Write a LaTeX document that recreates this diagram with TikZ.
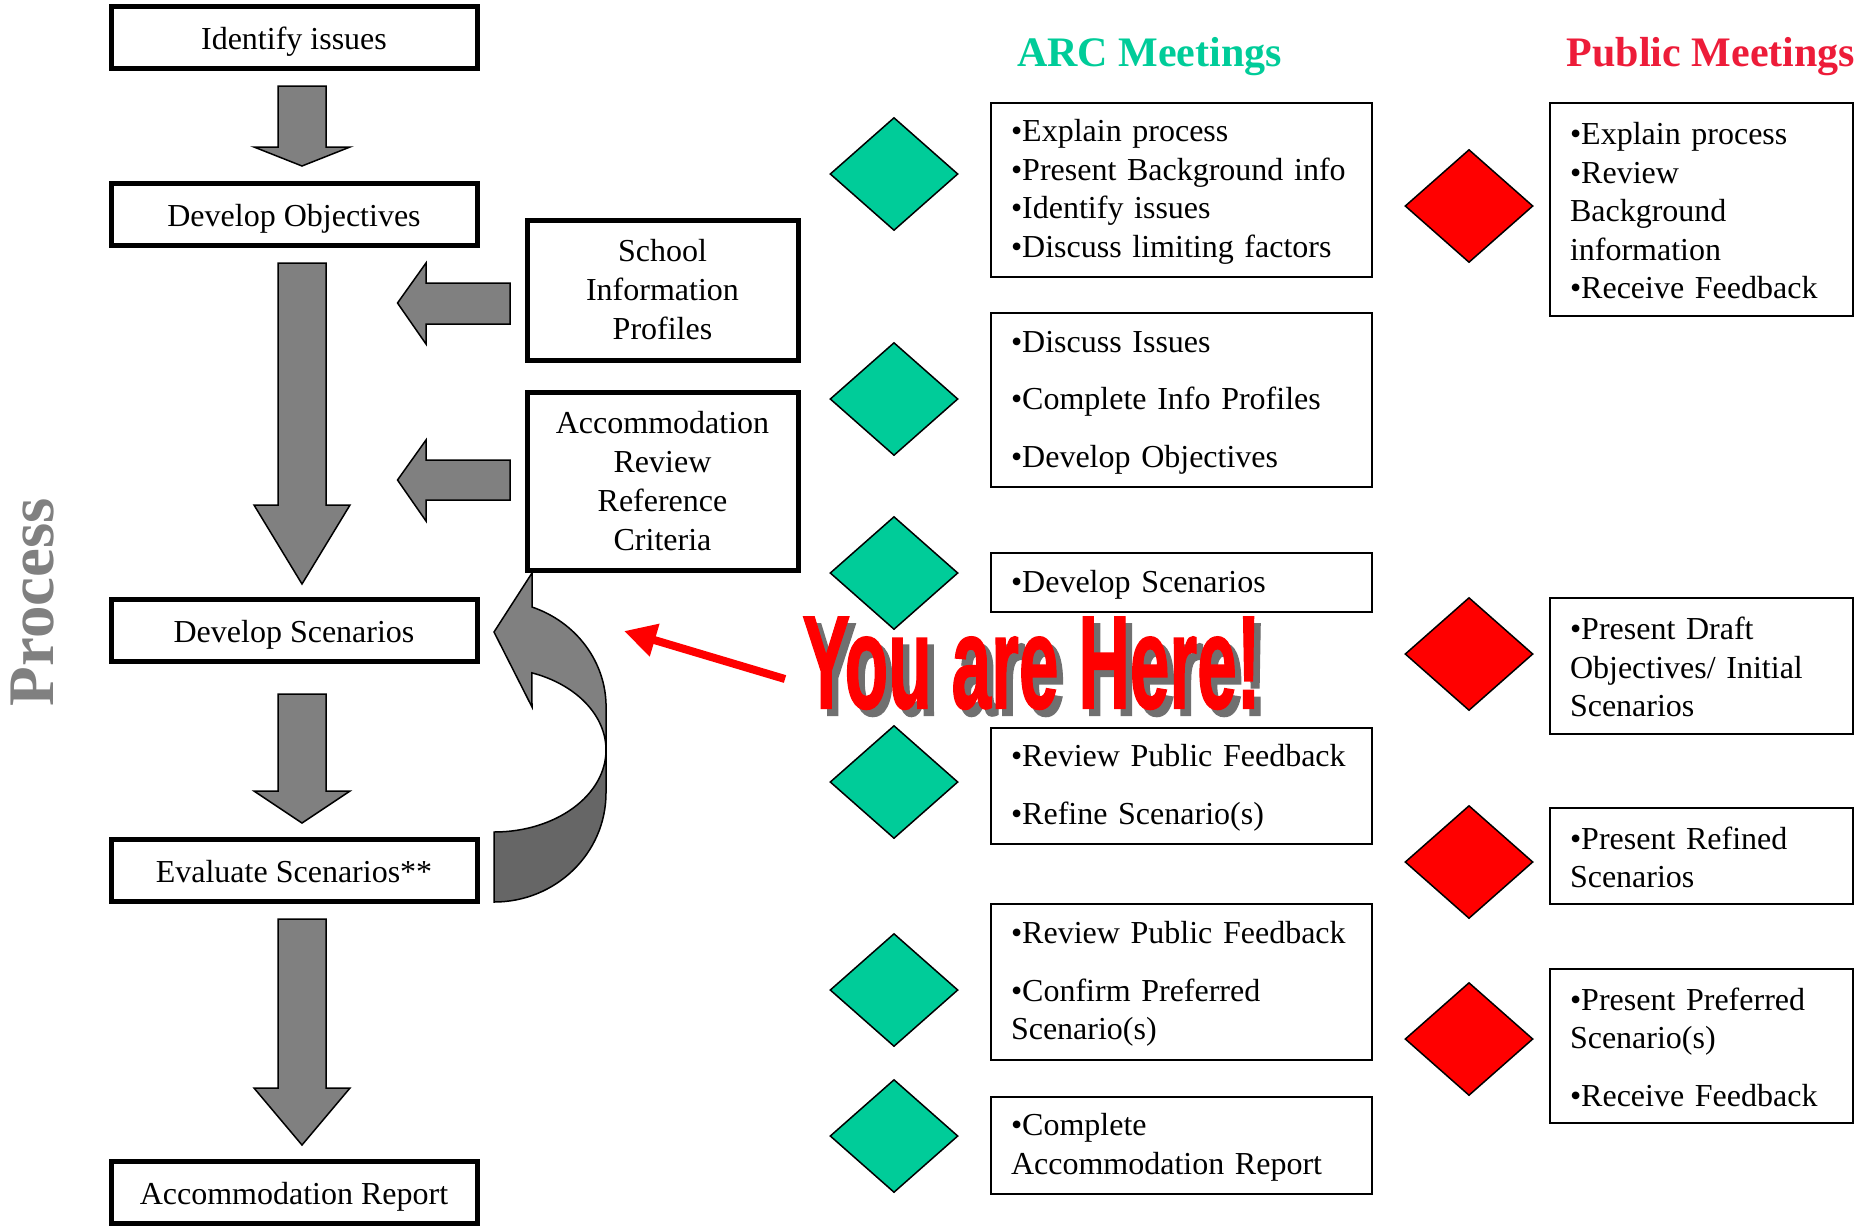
\documentclass[tikz,border=0pt]{standalone}
\usepackage{fontspec}
\setmainfont{Liberation Serif}
\newfontface\herefont[FakeBold=1.5]{Liberation Sans Bold}
\usetikzlibrary{arrows.meta,shapes.geometric}
\definecolor{arcgreen}{RGB}{0,204,153}
\definecolor{pubred}{RGB}{237,28,57}
\definecolor{blockgray}{RGB}{128,128,128}
\definecolor{blockdark}{RGB}{102,102,102}
\definecolor{shadowgray}{RGB}{112,112,112}
\begin{document}
\begin{tikzpicture}[x=0.5pt,y=-0.5pt,
  txt/.style={font=\fontsize{16}{19.25}\selectfont},
  flowbox/.style={txt, draw, line width=2.5pt, minimum width=183pt, minimum height=31pt, inner sep=0pt, align=center, text height=12pt, text depth=0pt},
  sidebox/.style={draw, line width=2.5pt, minimum width=135.5pt, inner sep=0pt, align=center, font=\fontsize{16}{19.5}\selectfont},
  arcbox/.style={txt, draw, line width=1pt, text width=170.5pt, inner xsep=10pt, inner ysep=0pt, align=left, execute at begin node={\rule{0pt}{13pt}}},
  pubbox/.style={txt, draw, line width=1pt, text width=131.5pt, inner xsep=10pt, inner ysep=0pt, align=left, execute at begin node={\rule{0pt}{12.5pt}}},
  arcdia/.style={diamond, draw, fill=arcgreen, line width=0.75pt, minimum width=64pt, minimum height=56.5pt, inner sep=0pt},
  pubdia/.style={diamond, draw, fill=red, line width=0.75pt, minimum width=64pt, minimum height=56.5pt, inner sep=0pt},
  blockarrow/.style={fill=blockgray, draw=black, line width=0.75pt, line join=miter},
  title/.style={anchor=base, inner sep=0pt, font=\fontsize{21}{25}\selectfont\bfseries},
  heretext/.style={anchor=base, inner sep=0pt, font=\herefont\fontsize{66}{70}\selectfont}
]
\fill[white] (0,0) rectangle (1874,1228);
\useasboundingbox (0,0) rectangle (1874,1228);

% Process label
\node[rotate=90, anchor=base, inner sep=0pt, text=blockgray, font=\fontsize{32.5}{38}\selectfont\bfseries] (process) at (54,602) {Process};

% left flow boxes
\node[flowbox] (identify) at (294,37) {Identify issues};
\node[flowbox] (devobj) at (294,214) {Develop Objectives};
\node[flowbox] (devscen) at (294,630) {Develop Scenarios};
\node[flowbox] (evalscen) at (294,870) {Evaluate Scenarios**};
\node[flowbox] (accrep) at (294,1192) {Accommodation Report};

% down block arrows
\foreach \t/\h/\p in {86/147/166, 263/505/584, 694/791/823, 919/1088/1145}
  \filldraw[blockarrow] (278,\t) -- (326,\t) -- (326,\h) -- (350,\h) -- (302,\p) -- (254,\h) -- (278,\h) -- cycle;

% side boxes
\node[sidebox, minimum height=70pt] (sip) at (662.5,290) {School\\Information\\Profiles};
\node[sidebox, minimum height=89pt] (arrc) at (662.5,481) {Accommodation\\Review\\Reference\\Criteria};

% left block arrows
\foreach \tip/\ha/\hb/\sa/\sb in {303/263/344/283/324, 480/440/521/460/500}
  \filldraw[blockarrow] (510,\sa) -- (426,\sa) -- (426,\ha) -- (397.5,\tip) -- (426,\hb) -- (426,\sb) -- (510,\sb) -- cycle;

% curved return arrow
\filldraw[fill=blockgray, draw=black, line width=0.75pt, line join=miter]
  (532,607) arc[start angle=-70.2, end angle=0, x radius=112, y radius=106]
  -- (606,750) arc[start angle=0, end angle=-70.2, x radius=112, y radius=82]
  -- (532,707) -- (494,632) -- (532,573) -- cycle;
\filldraw[fill=blockdark, draw=black, line width=0.75pt, line join=miter]
  (606,750) -- (606,793) arc[start angle=0, end angle=90, x radius=112, y radius=109]
  -- (494,832) arc[start angle=90, end angle=0, x radius=112, y radius=82] -- cycle;

% titles
\node[title, text=arcgreen] (arctitle) at (1149.5,66) {ARC Meetings};
\node[title, text=pubred] (pubtitle) at (1711,66) {Public Meetings};

% ARC diamonds
\node[arcdia] (ad1) at (894,174) {};
\node[arcdia] (ad2) at (894,399) {};
\node[arcdia] (ad3) at (894,573) {};
\node[arcdia] (ad4) at (894,782) {};
\node[arcdia] (ad5) at (894,990) {};
\node[arcdia] (ad6) at (894,1136) {};

% ARC boxes
\node[arcbox, minimum height=87pt] (ab1) at (1181.5,190) {•Explain process\\•Present Background info\\•Identify issues\\•Discuss limiting factors};
\node[arcbox, minimum height=87pt] (ab2) at (1181.5,400) {•Discuss Issues\\[9.5pt]•Complete Info Profiles\\[9.5pt]•Develop Objectives};
\node[arcbox, minimum height=29.5pt] (ab3) at (1181.5,582.5) {•Develop Scenarios};
\node[arcbox, minimum height=58pt] (ab4) at (1181.5,786) {•Review Public Feedback\\[9.5pt]•Refine Scenario(s)};
\node[arcbox, minimum height=78pt] (ab5) at (1181.5,982) {•Review Public Feedback\\[9.5pt]•Confirm Preferred\\Scenario(s)};
\node[arcbox, minimum height=48.5pt] (ab6) at (1181.5,1145.5) {•Complete\\Accommodation Report};

% public diamonds
\node[pubdia] (pd1) at (1469,206) {};
\node[pubdia] (pd2) at (1469,654) {};
\node[pubdia] (pd3) at (1469,862) {};
\node[pubdia] (pd4) at (1469,1039) {};

% public boxes
\node[pubbox, minimum height=106.5pt] (pb1) at (1701.5,209.5) {•Explain process\\•Review\\Background\\information\\•Receive Feedback};
\node[pubbox, minimum height=68pt] (pb2) at (1701.5,666) {•Present Draft\\Objectives/ Initial\\Scenarios};
\node[pubbox, minimum height=48pt] (pb3) at (1701.5,856) {•Present Refined\\Scenarios};
\node[pubbox, minimum height=77pt] (pb4) at (1701.5,1046) {•Present Preferred\\Scenario(s)\\[9.5pt]•Receive Feedback};

% You are Here!
\node[heretext, text=shadowgray] (hereshadow) at (1038,715) {\scalebox{0.54}[1]{You are Here!}};
\node[heretext, text=red] (here) at (1031.5,708) {\scalebox{0.54}[1]{You are Here!}};
\coordinate (hereTail) at (785,679);
\coordinate (hereTip) at (624,631);
\draw[red, line width=4pt, -{Triangle[length=16pt,width=16pt]}] (hereTail) -- (hereTip);
\end{tikzpicture}
\end{document}
